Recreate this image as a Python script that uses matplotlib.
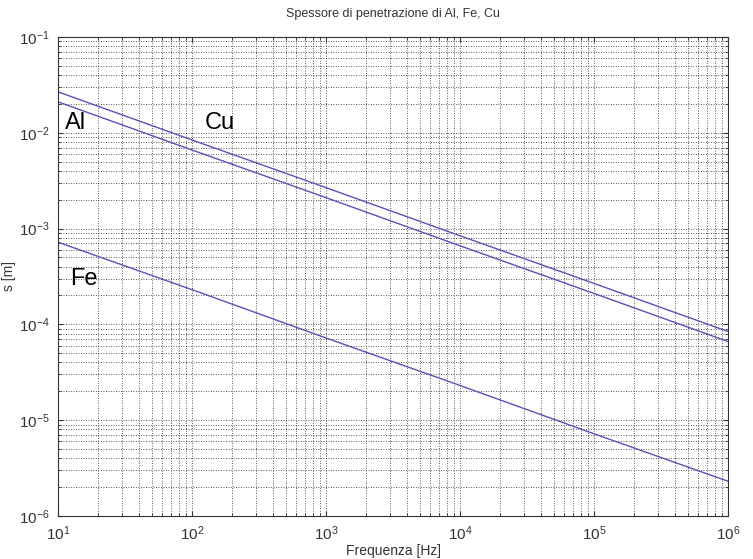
import matplotlib
matplotlib.use("Agg")
import matplotlib.pyplot as plt

plt.rcParams['font.family'] = ['Liberation Sans', 'DejaVu Sans']
plt.rcParams['mathtext.fontset'] = 'custom'
plt.rcParams['mathtext.rm'] = 'Liberation Sans'
plt.rcParams['mathtext.it'] = 'Liberation Sans'

# frequenze e spessori (rette in scala log-log)
freq = [1e1, 1e2, 1e3, 1e4, 1e5, 1e6]
s_al = [2.67e-2, 8.4e-3, 2.67e-3, 8.4e-4, 2.67e-4, 8.4e-5]
s_cu = [2.1e-2, 6.6e-3, 2.1e-3, 6.6e-4, 2.1e-4, 6.6e-5]
s_fe = [7.2e-4, 2.3e-4, 7.2e-5, 2.3e-5, 7.2e-6, 2.3e-6]

col = "#5a50b8"

fig = plt.figure(figsize=(7.53, 5.59), dpi=100)
ax = fig.add_axes([0.077, 0.077, 0.89, 0.857])
ax.loglog(freq, s_al, color=col, lw=1)
ax.loglog(freq, s_cu, color=col, lw=1)
ax.loglog(freq, s_fe, color=col, lw=1)

ax.set_xlim(1e1, 1e6)
ax.set_ylim(1e-6, 1e-1)
ax.grid(True, which="both", color="#222222", linestyle=(0, (1, 2)), lw=0.6)
ax.tick_params(which="both", direction="in", top=True, right=True, labelsize=11, colors="#333333")
ax.tick_params(axis="x", pad=6)
ax.tick_params(axis="y", pad=6)
for sp in ax.spines.values():
    sp.set_color("#333333")

ax.text(11.3, 1.1e-2, "Al", fontsize=17)
ax.text(1.25e2, 1.1e-2, "Cu", fontsize=17)
ax.text(12.3, 2.6e-4, "Fe", fontsize=17)

ax.set_title("Spessore di penetrazione di Al, Fe, Cu", fontsize=9, color="#333333", pad=14)
ax.set_xlabel("Frequenza [Hz]", fontsize=10, color="#333333", labelpad=1)
ax.set_ylabel("s [m]", fontsize=10, color="#333333", labelpad=2)

fig.savefig("out.png")
